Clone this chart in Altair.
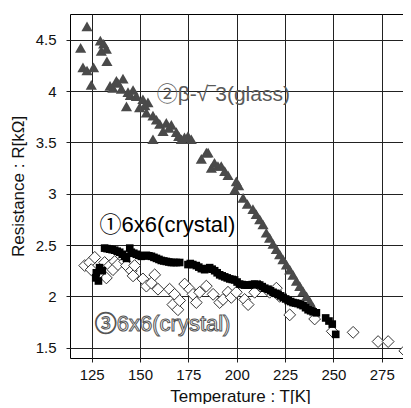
import altair as alt
import pandas as pd

# ② beta-sqrt3 (glass) : triangles
glass_T = [122.6, 119.3, 120.5, 122.6, 126.0, 124.8, 129.5, 131.2, 132.6, 130.0, 132.9,
           137.8, 141.2, 136.0, 138.5, 140.4, 143.8, 146.4, 143.0, 148.1, 151.5, 154.1, 149.8,
           153.3, 156.7, 160.2, 163.6, 166.2, 156.7, 161.9, 168.8, 171.4, 174.8, 176.5,
           181.7, 184.3, 185.2, 186.9, 190.3, 192.0, 193.8, 199.8, 199.0, 203.3, 208.4,
           210.1, 211.9, 213.6, 215.3, 217.0, 218.8, 220.5, 222.2, 223.9, 225.7, 227.4,
           229.1, 230.9, 232.6, 234.3, 236.1, 237.8, 239.5,
           134.5, 145.0, 152.5, 158.5, 165.0, 170.0, 173.0, 188.5, 195.5, 201.0, 205.5]
glass_R = [4.63, 4.42, 4.23, 4.20, 4.23, 4.06, 4.49, 4.46, 4.41, 4.39, 4.29,
           4.10, 4.12, 4.03, 4.08, 4.02, 3.99, 4.01, 3.85, 3.95, 3.92, 3.89, 3.84,
           3.79, 3.76, 3.68, 3.69, 3.67, 3.53, 3.61, 3.60, 3.53, 3.56, 3.53,
           3.34, 3.40, 3.40, 3.25, 3.27, 3.27, 3.22, 3.12, 3.04, 2.96, 2.85,
           2.80, 2.75, 2.70, 2.62, 2.57, 2.51, 2.46, 2.41, 2.36, 2.31, 2.26,
           2.21, 2.15, 2.10, 2.05, 2.00, 1.95, 1.89,
           4.05, 3.96, 3.86, 3.72, 3.64, 3.56, 3.55, 3.30, 3.18, 3.08, 2.90]

# ① 6x6 (crystal) : filled squares
sq_T = [127.4, 127.1, 129.1, 128.5, 130.5, 131.7, 133.0, 134.3, 135.6, 136.9, 138.2, 139.5,
        140.8, 142.1, 143.0, 144.7, 145.5, 146.8, 148.1, 149.4, 150.7, 152.0, 153.3, 154.6,
        155.9, 157.2, 158.5, 159.8, 161.0, 162.3, 163.6, 164.9, 166.2, 167.5, 168.8,
        170.5, 174.8, 176.0, 177.3, 179.1, 180.4, 181.7, 183.4, 184.7, 186.0, 187.3,
        188.6, 189.9, 191.2, 192.5, 193.8, 195.1, 196.4, 197.7, 198.9, 200.2, 201.5,
        202.8, 204.1, 205.4, 206.7, 208.0, 209.3, 210.6, 211.9, 213.2, 214.5, 216.2,
        217.5, 218.8, 220.1, 221.4, 222.7, 224.0, 225.3, 226.6, 227.9, 229.1, 230.4,
        231.7, 233.0, 234.3, 235.6, 236.9, 238.2, 239.5, 241.2, 246.0, 247.7, 249.4, 251.2]
sq_R = [2.23, 2.18, 2.28, 2.15, 2.25, 2.47, 2.465, 2.46, 2.455, 2.45, 2.44, 2.43,
        2.41, 2.39, 2.37, 2.47, 2.43, 2.42, 2.41, 2.40, 2.39, 2.395, 2.40, 2.395,
        2.39, 2.38, 2.37, 2.36, 2.35, 2.345, 2.34, 2.335, 2.33, 2.33, 2.33,
        2.33, 2.31, 2.32, 2.31, 2.30, 2.285, 2.27, 2.26, 2.27, 2.28, 2.265,
        2.25, 2.23, 2.21, 2.20, 2.19, 2.18, 2.17, 2.165, 2.16, 2.14, 2.12,
        2.115, 2.11, 2.11, 2.11, 2.115, 2.12, 2.115, 2.11, 2.095, 2.08, 2.07,
        2.055, 2.04, 2.03, 2.02, 2.005, 1.99, 1.975, 1.96, 1.95, 1.94, 1.935,
        1.93, 1.92, 1.91, 1.89, 1.87, 1.86, 1.85, 1.84, 1.79, 1.76, 1.73, 1.63]

# ③ 6x6 (crystal) : open diamonds
dia_T = [121.4, 124.0, 126.6, 124.8, 129.1, 131.7, 134.3, 132.6, 136.9, 136.0, 138.6,
         142.1, 143.0, 145.5, 147.2, 146.4, 151.5, 153.3, 155.9, 157.6, 159.3, 165.3,
         167.9, 167.0, 169.6, 170.5, 173.1, 175.7, 177.4, 179.1, 180.8, 184.3, 187.8,
         191.2, 192.9, 195.5, 197.2, 199.8, 204.1, 205.9, 209.3, 212.0, 217.0, 220.5,
         222.2, 227.4, 240.3, 249.4, 260.2, 273.1, 278.3, 286.9]
dia_R = [2.30, 2.33, 2.38, 2.26, 2.23, 2.33, 2.30, 2.18, 2.34, 2.26, 2.31,
         2.34, 2.30, 2.25, 2.30, 2.20, 2.17, 2.10, 2.13, 2.21, 2.07, 2.07,
         2.02, 1.92, 1.87, 1.96, 2.12, 2.07, 2.02, 1.94, 2.04, 2.10, 2.02,
         1.94, 1.97, 2.04, 1.99, 2.04, 1.97, 1.92, 2.04, 2.10, 2.04, 2.08,
         2.00, 1.82, 1.78, 1.66, 1.65, 1.56, 1.56, 1.47]

x_ticks = [125, 150, 175, 200, 225, 250, 275]
y_ticks = [1.5, 2, 2.5, 3, 3.5, 4, 4.5]

FONT = "Liberation Sans, Arial, Noto Sans CJK JP, sans-serif"

xs = alt.Scale(domain=[113.8, 289.6], nice=False, zero=False)
ys = alt.Scale(domain=[1.40, 4.75], nice=False, zero=False)

xax = alt.Axis(values=x_ticks, title="Temperature : T[K]", grid=True, gridColor="#222",
               gridOpacity=1, domain=False, tickColor="#222", tickSize=4, labelPadding=5,
               labelFontSize=15, titleFontSize=17, titleFontWeight="normal",
               labelColor="#111", titleColor="#111", titlePadding=6,
               labelFont=FONT, titleFont=FONT)
yax = alt.Axis(values=y_ticks, format="~g", title="Resistance : R[kΩ]", grid=True,
               gridColor="#222", gridOpacity=1, domain=False, tickColor="#222", tickSize=4,
               labelPadding=10, labelFontSize=15, titleFontSize=17, titleFontWeight="normal",
               labelColor="#111", titleColor="#111", titlePadding=8,
               labelFont=FONT, titleFont=FONT)

glass = pd.DataFrame({"T": glass_T, "R": glass_R})
sq = pd.DataFrame({"T": sq_T, "R": sq_R})
dia = pd.DataFrame({"T": dia_T, "R": dia_R})

base_x = alt.X("T:Q", scale=xs, axis=xax)
base_y = alt.Y("R:Q", scale=ys, axis=yax)

l_dia = alt.Chart(dia).mark_point(shape="diamond", size=140, filled=False, fill="white",
                                  fillOpacity=1, stroke="#333", strokeWidth=1,
                                  opacity=1).encode(x=base_x, y=base_y)
l_glass = alt.Chart(glass).mark_point(shape="triangle-up", size=125, filled=True,
                                      color="#4a4a4a", opacity=1).encode(x="T:Q", y="R:Q")
l_sq = alt.Chart(sq).mark_point(shape="square", size=58, filled=True, color="black",
                                opacity=1).encode(x="T:Q", y="R:Q")

ann_text = ["①6x6(crystal)", "②β-√‾3(glass)", "③6x6(crystal)"]
ann_T = [129.1, 158.6, 126.6]
ann_R = [2.70, 3.96, 1.73]
ann = pd.DataFrame({"t": ann_text, "T": ann_T, "R": ann_R})

a1 = alt.Chart(ann.iloc[[0]]).mark_text(align="left", baseline="middle", fontSize=22,
                                        font=FONT, color="black").encode(
    x="T:Q", y="R:Q", text="t:N")
a2 = alt.Chart(ann.iloc[[1]]).mark_text(align="left", baseline="middle", fontSize=21,
                                        font=FONT, color="#5a5a5a").encode(
    x="T:Q", y="R:Q", text="t:N")
a3 = alt.Chart(ann.iloc[[2]]).mark_text(align="left", baseline="middle", fontSize=22,
                                        font=FONT, fill="white", stroke="#555",
                                        strokeWidth=1).encode(
    x="T:Q", y="R:Q", text="t:N")

chart = alt.layer(l_dia, l_glass, l_sq, a1, a2, a3).properties(
    width=340, height=344,
    padding={"left": 62, "top": 6, "right": -7, "bottom": 46},
    autosize=alt.AutoSizeParams(type="none"),
    background="white",
).configure_view(stroke="black", strokeWidth=1)

chart.save("out.html", embed_options={"renderer": "svg", "actions": False})
